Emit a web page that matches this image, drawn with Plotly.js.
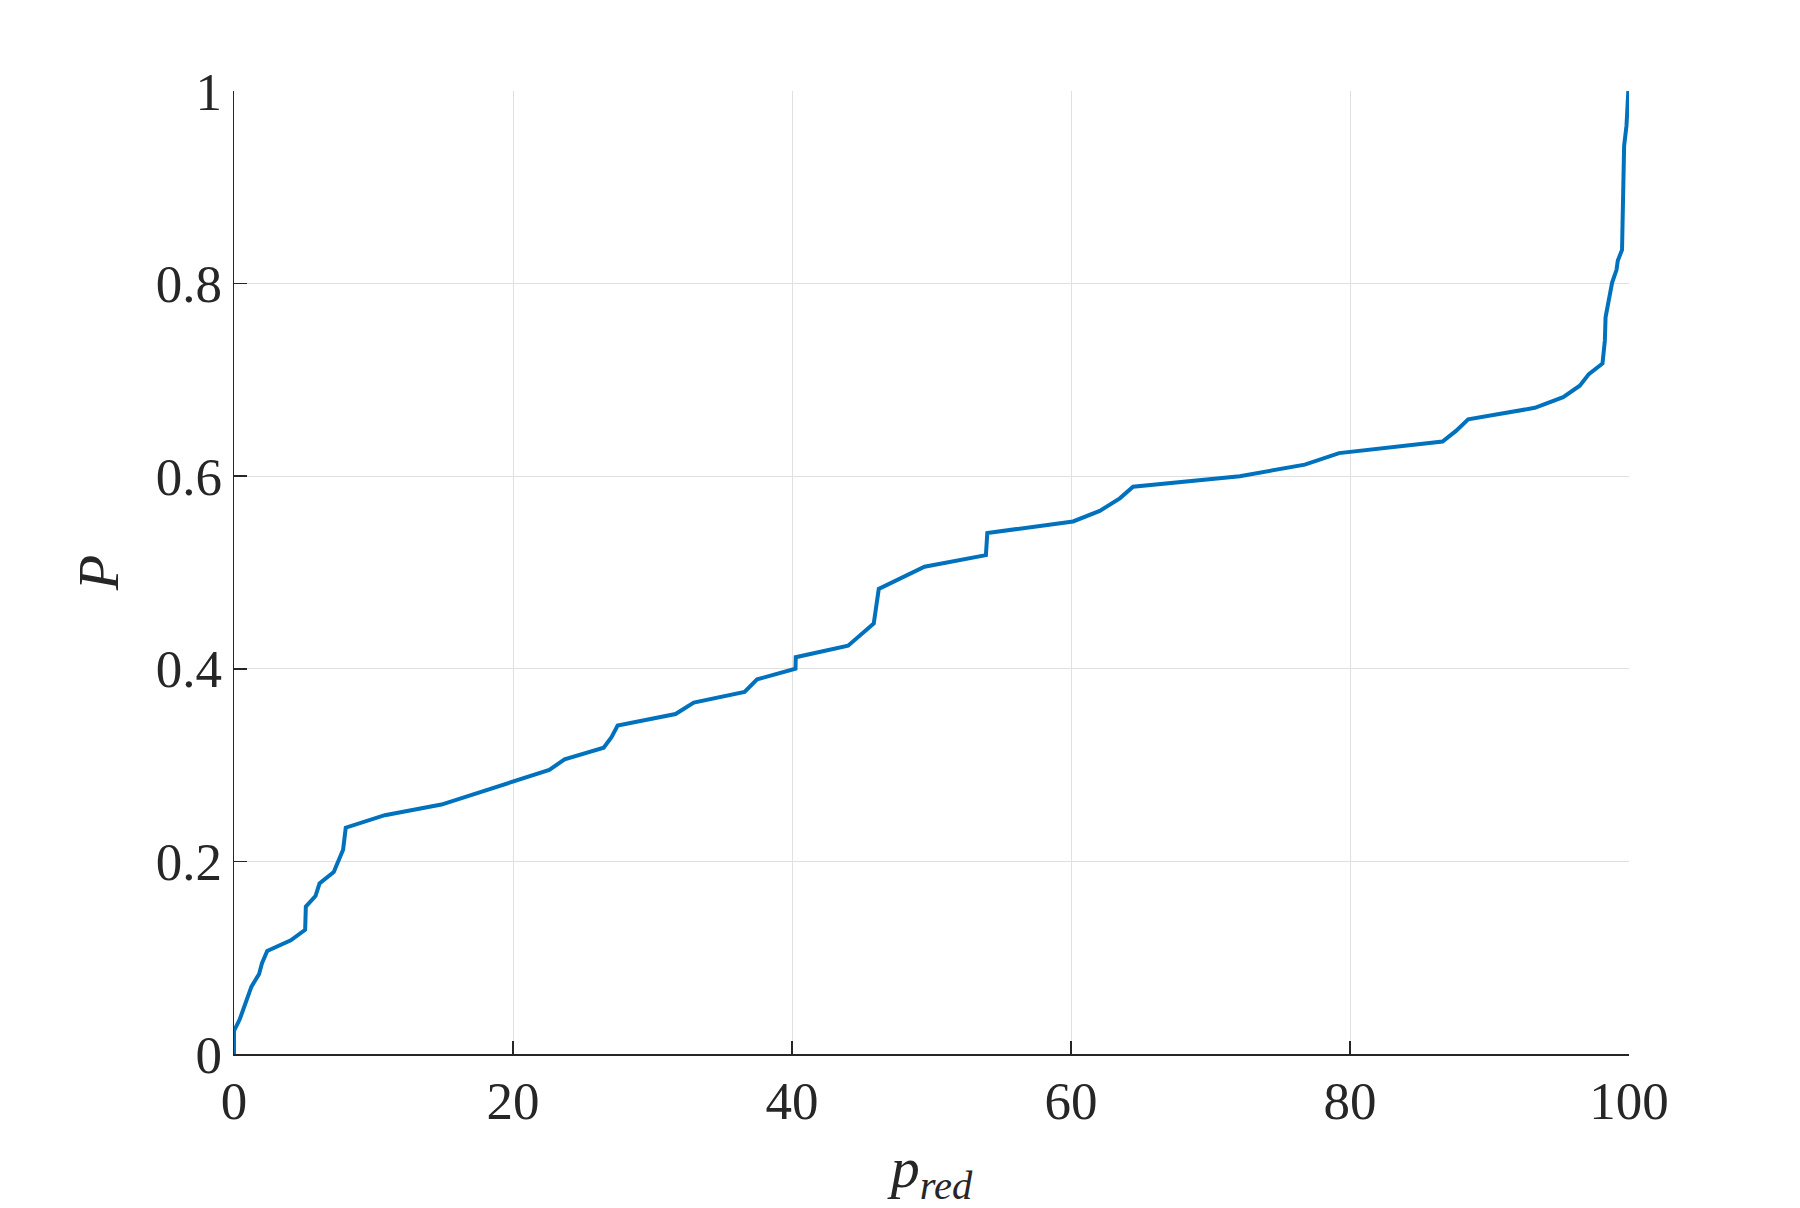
<!DOCTYPE html>
<html>
<head>
<meta charset="utf-8">
<script src="https://cdn.plot.ly/plotly-3.0.1.min.js"></script>
<style>
  html, body { margin: 0; padding: 0; background: #fff; }
  #chart { width: 1800px; height: 1208px; }
</style>
</head>
<body>
<div id="chart"></div>
<script>
// p_red values (x) and cumulative probability P (y)
const pRed = [
    0, 0, 0.41, 1.25, 1.8, 2.0, 2.38, 4.07, 5.1, 5.15, 5.84, 6.13, 7.15, 7.82, 8.01,
    10.81, 14.87, 20.0, 22.6, 23.7, 26.5, 27.06, 27.5, 31.65, 32.96, 36.6, 37.5,
    40.25, 40.27, 44.02, 44.98, 45.86, 46.22, 49.5, 53.9, 54.0, 60.15, 62.06, 63.5,
    64.45, 72.1, 76.76, 79.22, 86.63, 87.6, 88.47, 93.25, 95.28, 96.47, 97.12, 98.1,
    98.27, 98.32, 98.5, 98.79, 99.1, 99.2, 99.5, 99.57, 99.65, 99.82, 99.95
];
const probP = [
    0, 0.024, 0.036, 0.070, 0.083, 0.094, 0.107, 0.118, 0.129, 0.153, 0.164, 0.177, 0.189, 0.212, 0.235,
    0.248, 0.259, 0.283, 0.295, 0.306, 0.318, 0.329, 0.341, 0.353, 0.365, 0.376, 0.389,
    0.400, 0.412, 0.424, 0.436, 0.447, 0.483, 0.506, 0.518, 0.541, 0.553, 0.564, 0.577,
    0.589, 0.600, 0.612, 0.624, 0.636, 0.647, 0.659, 0.671, 0.682, 0.694, 0.706, 0.717,
    0.741, 0.765, 0.777, 0.801, 0.814, 0.824, 0.835, 0.882, 0.943, 0.964, 1.0
];

const axisColor = '#262626';
const gridColor = '#e0e0e0';
const serif = '"Liberation Serif"';

const data = [{
    type: 'scatter',
    mode: 'lines',
    x: pRed,
    y: probP,
    line: { color: '#0072BD', width: 4 },
    hoverinfo: 'skip'
}];

const layout = {
    width: 1800,
    height: 1208,
    margin: { l: 234, r: 171, t: 91, b: 154 },
    paper_bgcolor: '#ffffff',
    plot_bgcolor: '#ffffff',
    showlegend: false,
    font: { family: serif, color: axisColor, size: 53 },
    xaxis: {
        range: [0, 100],
        tickvals: [0, 20, 40, 60, 80, 100],
        showgrid: true,
        gridcolor: gridColor,
        gridwidth: 1,
        zeroline: false,
        showline: true,
        linecolor: axisColor,
        linewidth: 1.5,
        ticks: 'inside',
        ticklen: 13,
        tickwidth: 1.5,
        tickcolor: axisColor,
        tickfont: { family: serif, size: 53, color: axisColor },
        title: {
            text: '<i>p</i><sub><i>red</i></sub>',
            font: { family: serif, size: 58, color: axisColor },
            standoff: 18
        }
    },
    yaxis: {
        range: [0, 1],
        tickvals: [0, 0.2, 0.4, 0.6, 0.8, 1],
        ticktext: ['0', '0.2', '0.4', '0.6', '0.8', '1'],
        showgrid: true,
        gridcolor: gridColor,
        gridwidth: 1,
        zeroline: false,
        showline: true,
        linecolor: axisColor,
        linewidth: 1.5,
        ticks: 'inside',
        ticklen: 13,
        tickwidth: 1.5,
        tickcolor: axisColor,
        tickfont: { family: serif, size: 53, color: axisColor },
        title: {
            text: '<i>P</i>',
            font: { family: serif, size: 58, color: axisColor },
            standoff: 18
        }
    }
};

Plotly.newPlot('chart', data, layout, { displayModeBar: false, staticPlot: true });
</script>
</body>
</html>
